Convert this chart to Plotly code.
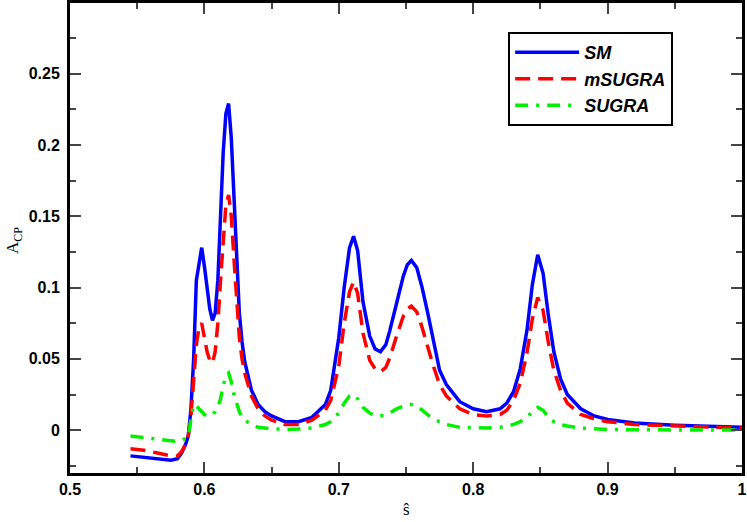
import plotly.graph_objects as go

x_sm = [0.545, 0.555, 0.565, 0.575, 0.580, 0.583, 0.586, 0.588, 0.590, 0.592, 0.594, 0.596, 0.598, 0.600,
        0.602, 0.604, 0.606, 0.608, 0.610, 0.612, 0.614, 0.616, 0.618, 0.620, 0.622, 0.624, 0.626, 0.628,
        0.630, 0.635, 0.640, 0.645, 0.650, 0.660, 0.670, 0.680, 0.690, 0.694, 0.700, 0.704, 0.708, 0.711,
        0.714, 0.718, 0.723, 0.727, 0.731, 0.735, 0.738, 0.743, 0.748, 0.751, 0.754, 0.758, 0.762, 0.766,
        0.770, 0.775, 0.780, 0.790, 0.800, 0.810, 0.820, 0.825, 0.830, 0.835, 0.840, 0.844, 0.848, 0.852,
        0.856, 0.860, 0.865, 0.870, 0.880, 0.890, 0.900, 0.920, 0.950, 0.980, 1.000]
y_sm = [-0.018, -0.019, -0.020, -0.021, -0.020, -0.016, -0.010, -0.004, 0.015, 0.050, 0.105, 0.118, 0.128, 0.115,
        0.098, 0.085, 0.077, 0.082, 0.105, 0.150, 0.195, 0.222, 0.229, 0.205, 0.160, 0.115, 0.082, 0.062,
        0.048, 0.028, 0.018, 0.013, 0.010, 0.006, 0.006, 0.009, 0.018, 0.028, 0.065, 0.100, 0.128, 0.136,
        0.126, 0.090, 0.066, 0.057, 0.055, 0.060, 0.070, 0.089, 0.108, 0.116, 0.119, 0.114, 0.100, 0.083,
        0.064, 0.042, 0.032, 0.020, 0.015, 0.013, 0.015, 0.019, 0.027, 0.043, 0.070, 0.102, 0.123, 0.110,
        0.080, 0.055, 0.036, 0.025, 0.015, 0.010, 0.0075, 0.005, 0.0035, 0.0025, 0.002]

x_msugra = x_sm
y_msugra = [-0.013, -0.014, -0.016, -0.018, -0.018, -0.015, -0.010, -0.004, 0.010, 0.035, 0.060, 0.072, 0.075, 0.065,
            0.055, 0.049, 0.047, 0.055, 0.075, 0.105, 0.135, 0.158, 0.165, 0.150, 0.120, 0.088, 0.065, 0.050,
            0.040, 0.024, 0.015, 0.010, 0.007, 0.004, 0.004, 0.007, 0.014, 0.021, 0.045, 0.075, 0.097, 0.104,
            0.096, 0.068, 0.049, 0.043, 0.041, 0.044, 0.051, 0.066, 0.080, 0.085, 0.087, 0.083, 0.072, 0.059,
            0.046, 0.032, 0.024, 0.015, 0.011, 0.010, 0.011, 0.014, 0.021, 0.033, 0.054, 0.078, 0.093, 0.084,
            0.061, 0.042, 0.028, 0.019, 0.011, 0.008, 0.006, 0.004, 0.003, 0.002, 0.0015]

x_sugra = x_sm
y_sugra = [-0.004, -0.005, -0.006, -0.007, -0.008, -0.007, -0.006, -0.005, 0.008, 0.018, 0.017, 0.015, 0.013, 0.011,
           0.010, 0.010, 0.011, 0.013, 0.016, 0.022, 0.031, 0.038, 0.040, 0.034, 0.025, 0.018, 0.013, 0.009,
           0.007, 0.004, 0.002, 0.0015, 0.001, 0.0005, 0.0008, 0.0015, 0.004, 0.006, 0.012, 0.019, 0.024, 0.025,
           0.022, 0.016, 0.012, 0.010, 0.010, 0.011, 0.012, 0.015, 0.017, 0.018, 0.018, 0.017, 0.014, 0.011,
           0.008, 0.006, 0.004, 0.002, 0.0015, 0.0015, 0.002, 0.003, 0.004, 0.006, 0.009, 0.013, 0.016, 0.014,
           0.009, 0.006, 0.004, 0.003, 0.0015, 0.001, 0.0005, 0.0003, 0.0002, 0.0001, 0.0001]

names = ["SM", "mSUGRA", "SUGRA"]
colors = ["#0000ff", "#ff0000", "#00f000"]
x_title = "ŝ"
y_title = "A<sub>CP</sub>"

fig = go.Figure()
fig.add_trace(go.Scatter(x=x_sm, y=y_sm, mode="lines", name="<b><i>%s</i></b>" % names[0],
                         line=dict(color=colors[0], width=3.5)))
fig.add_trace(go.Scatter(x=x_msugra, y=y_msugra, mode="lines", name="<b><i>%s</i></b>" % names[1],
                         line=dict(color=colors[1], width=3.5, dash="15px,8px")))
fig.add_trace(go.Scatter(x=x_sugra, y=y_sugra, mode="lines", name="<b><i>%s</i></b>" % names[2],
                         line=dict(color=colors[2], width=3.5, dash="13px,8px,3px,8px")))

axis_common = dict(
    showline=True, linewidth=3, linecolor="black", mirror="allticks",
    ticks="inside", ticklen=11, tickwidth=1.5, tickcolor="#444",
    showgrid=False, zeroline=False, automargin=False, ticklabeloverflow="allow",
    tickfont=dict(family="Liberation Sans", size=16, color="black", weight="bold"),
)

fig.update_xaxes(range=[0.5, 1.0], dtick=0.1, tick0=0.5,
                 minor=dict(ticks="inside", ticklen=6, tickwidth=1.5, tickcolor="#444", dtick=0.05, tick0=0.5),
                 **axis_common)
fig.update_yaxes(range=[-0.03, 0.2995], dtick=0.05, tick0=0, ticklabelstandoff=4,
                 minor=dict(ticks="inside", ticklen=6, tickwidth=1.5, tickcolor="#444", dtick=0.025, tick0=0),
                 **axis_common)

fig.add_annotation(text=x_title, xref="paper", yref="paper", x=0.501, y=0, yshift=-36,
                   xanchor="center", yanchor="middle", showarrow=False,
                   font=dict(family="Liberation Serif", size=17, color="black"))
fig.add_annotation(text=y_title, xref="paper", yref="paper", x=-0.0825, y=0.495,
                   xanchor="center", yanchor="middle", showarrow=False, textangle=-90,
                   font=dict(family="Liberation Serif", size=17, color="black"))

fig.update_layout(
    width=747, height=522,
    margin=dict(l=70, r=5, t=3, b=49),
    plot_bgcolor="white", paper_bgcolor="white",
    legend=dict(x=0.652, y=0.938, xanchor="left", yanchor="top",
                bordercolor="black", borderwidth=2, bgcolor="white",
                font=dict(family="Liberation Sans", size=18, color="black"),
                itemwidth=64, tracegroupgap=0),
)

fig.write_html("out.html", config={"displayModeBar": False},
               post_script="document.body.style.margin='0px';")
